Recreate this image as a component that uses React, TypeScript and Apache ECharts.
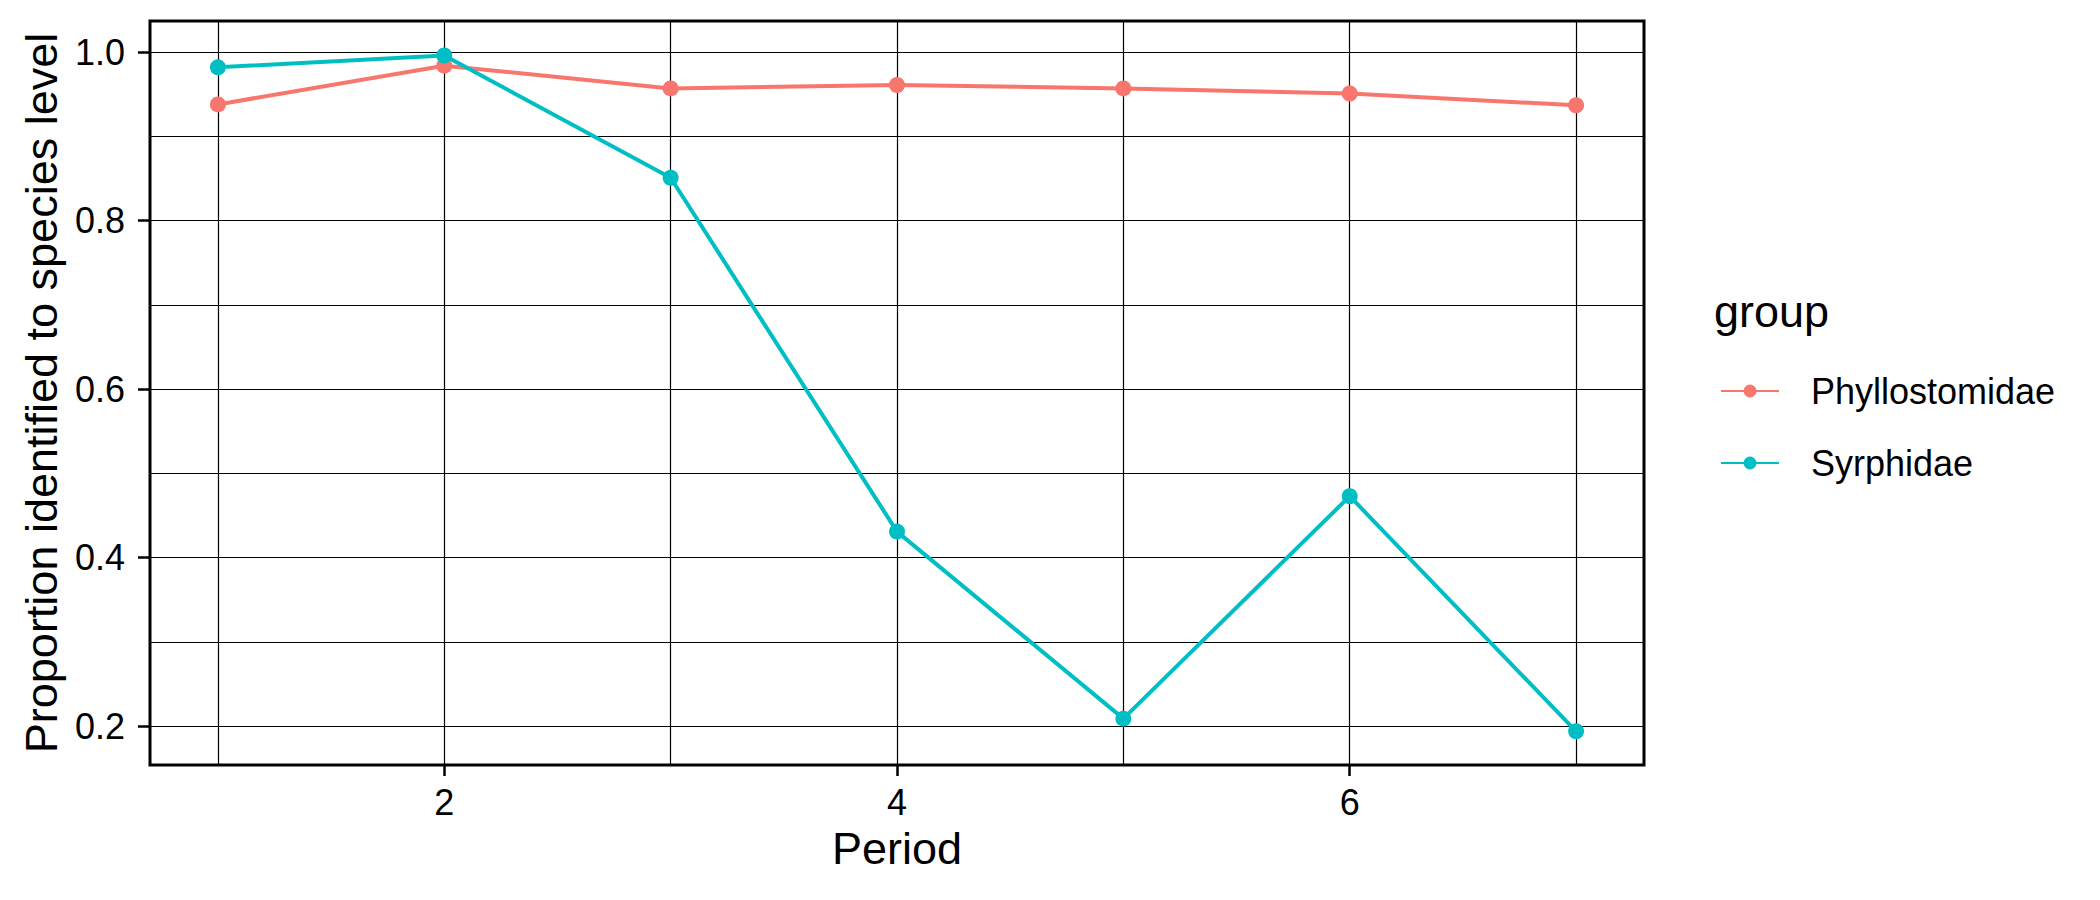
import React, { useEffect, useRef } from "react";
import * as echarts from "echarts";

const periods = [1, 2, 3, 4, 5, 6, 7];
const phyllostomidae = [0.938, 0.984, 0.957, 0.961, 0.957, 0.951, 0.937];
const syrphidae = [0.982, 0.996, 0.851, 0.431, 0.209, 0.473, 0.194];
const seriesNames = ["Phyllostomidae", "Syrphidae"];
const seriesColors = ["#F8766D", "#00BFC4"];
const xTickLabels = [2, 4, 6];
const yTickLabels = [0.2, 0.4, 0.6, 0.8, 1.0];
const xGrid = [1, 2, 3, 4, 5, 6, 7];
const yGrid = [0.2, 0.3, 0.4, 0.5, 0.6, 0.7, 0.8, 0.9, 1.0];

const FONT = "Liberation Sans, Arial, sans-serif";

export default function App() {
  const ref = useRef<HTMLDivElement>(null);
  useEffect(() => {
    if (!ref.current) return;
    const chart = echarts.init(ref.current, undefined, { renderer: "svg" });
    const gridLineData = [
      ...xGrid.map((v) => ({ xAxis: v })),
      ...yGrid.map((v) => ({ yAxis: v })),
    ];
    const allSeries: any[] = seriesNames.map((name, i) => ({
      name,
      type: "line",
      data: periods.map((p, j) => [p, i === 0 ? phyllostomidae[j] : syrphidae[j]]),
      symbol: "circle",
      symbolSize: 16,
      z: 10,
      lineStyle: { color: seriesColors[i], width: 4 },
      itemStyle: { color: seriesColors[i] },
    }));
    allSeries.push({
      name: "grid",
      type: "line",
      data: [],
      z: 1,
      markLine: {
        silent: true,
        symbol: ["none", "none"],
        label: { show: false },
        lineStyle: { color: "#000", width: 1.2, type: "solid" },
        data: gridLineData,
      },
    });
    chart.setOption({
      animation: false,
      backgroundColor: "#fff",
      textStyle: { fontFamily: FONT },
      grid: {
        left: 150,
        top: 21,
        width: 1494,
        height: 744,
        show: true,
        borderColor: "#000",
        borderWidth: 3,
        backgroundColor: "transparent",
      },
      xAxis: {
        type: "value",
        min: 0.7,
        max: 7.3,
        name: "Period",
        nameLocation: "middle",
        nameGap: 61,
        nameTextStyle: { fontSize: 45, color: "#000", fontFamily: FONT },
        axisLine: { show: false },
        splitLine: { show: false },
        axisTick: {
          show: true,
          length: 11,
          lineStyle: { color: "#000", width: 2.5 },
          customValues: xTickLabels,
        },
        axisLabel: {
          fontSize: 36,
          color: "#000",
          margin: 19,
          fontFamily: FONT,
          customValues: xTickLabels,
          formatter: (v: number) => String(v),
        },
      },
      yAxis: {
        type: "value",
        min: 0.154,
        max: 1.037,
        name: "Proportion identified to species level",
        nameLocation: "middle",
        nameGap: 83,
        nameRotate: 90,
        nameTextStyle: { fontSize: 45, color: "#000", fontFamily: FONT },
        axisLine: { show: false },
        splitLine: { show: false },
        axisTick: {
          show: true,
          length: 12,
          lineStyle: { color: "#000", width: 2.5 },
          customValues: yTickLabels,
        },
        axisLabel: {
          fontSize: 36,
          color: "#000",
          margin: 25,
          fontFamily: FONT,
          customValues: yTickLabels,
          formatter: (v: number) => v.toFixed(1),
        },
      },
      legend: {
        data: seriesNames,
        orient: "vertical",
        left: 1720,
        top: 373,
        padding: 0,
        itemWidth: 58,
        itemHeight: 16,
        itemGap: 36,
        textStyle: { fontSize: 36, color: "#000", fontFamily: FONT, padding: [0, 0, 0, 27] },
      },
      graphic: [
        {
          type: "text",
          left: 1714,
          top: 289,
          style: { text: "group", fontSize: 45, fill: "#000", fontFamily: FONT },
        },
      ],
      series: allSeries,
    });
    return () => chart.dispose();
  }, []);
  return (
    <div
      ref={ref}
      style={{ position: "fixed", left: 0, top: 0, width: 2100, height: 900, background: "#fff" }}
    />
  );
}
